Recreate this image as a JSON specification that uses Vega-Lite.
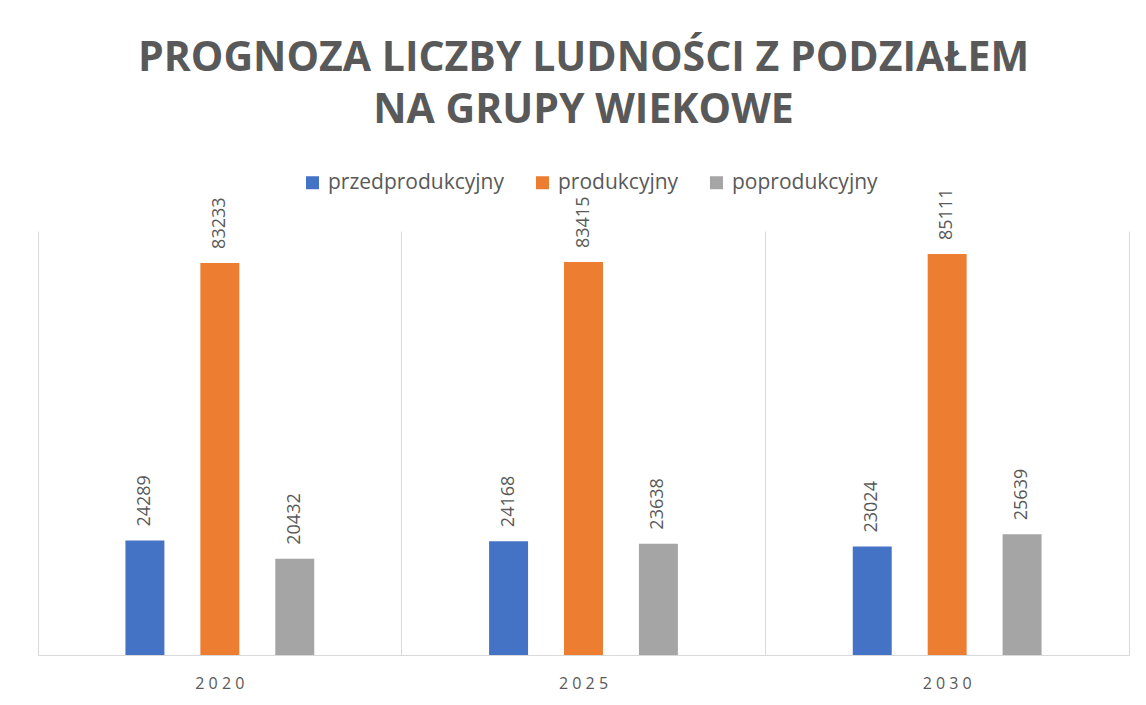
{
  "$schema": "https://vega.github.io/schema/vega-lite/v6.json",
  "width": 1091,
  "height": 424,
  "autosize": {"type": "none"},
  "padding": {"left": 38, "top": 231, "right": 17, "bottom": 50},
  "background": "white",
  "title": {
    "text": ["PROGNOZA LICZBY LUDNOŚCI Z PODZIAŁEM", "NA GRUPY WIEKOWE"],
    "font": "Open Sans",
    "fontSize": 41,
    "fontWeight": "bold",
    "color": "#595959",
    "anchor": "middle",
    "lineHeight": 52,
    "offset": 40
  },
  "data": {
    "values": [
      {"year": "2020", "series": "przedprodukcyjny", "value": 24289},
      {"year": "2020", "series": "produkcyjny", "value": 83233},
      {"year": "2020", "series": "poprodukcyjny", "value": 20432},
      {"year": "2025", "series": "przedprodukcyjny", "value": 24168},
      {"year": "2025", "series": "produkcyjny", "value": 83415},
      {"year": "2025", "series": "poprodukcyjny", "value": 23638},
      {"year": "2030", "series": "przedprodukcyjny", "value": 23024},
      {"year": "2030", "series": "produkcyjny", "value": 85111},
      {"year": "2030", "series": "poprodukcyjny", "value": 25639}
    ]
  },
  "encoding": {
    "x": {
      "field": "year",
      "type": "nominal",
      "scale": {"paddingInner": 0, "paddingOuter": 0},
      "axis": {
        "title": null,
        "grid": true,
        "bandPosition": 0,
        "gridColor": "#d9d9d9",
        "gridWidth": 1,
        "domainColor": "#d9d9d9",
        "domainWidth": 1,
        "ticks": false,
        "labelAngle": 0,
        "labelFont": "Open Sans",
        "labelFontSize": 16,
        "labelColor": "#595959",
        "labelPadding": 20,
        "labelExpr": "join(split(datum.label, ''), ' ')"
      }
    },
    "xOffset": {
      "field": "series",
      "type": "nominal",
      "scale": {
        "domain": ["_lead", "przedprodukcyjny", "produkcyjny", "poprodukcyjny", "_trail"],
        "paddingInner": 0.48,
        "paddingOuter": 0.167
      }
    },
    "y": {
      "field": "value",
      "type": "quantitative",
      "scale": {"domain": [0, 90000], "nice": false},
      "axis": {
        "orient": "right",
        "title": null,
        "labels": false,
        "ticks": false,
        "grid": false,
        "domain": true,
        "domainColor": "#d9d9d9",
        "domainWidth": 1
      }
    },
    "color": {
      "field": "series",
      "type": "nominal",
      "scale": {
        "domain": ["przedprodukcyjny", "produkcyjny", "poprodukcyjny"],
        "range": ["#4472C4", "#ED7D31", "#A5A5A5"]
      },
      "legend": {
        "title": null,
        "orient": "none",
        "direction": "horizontal",
        "legendX": 264,
        "legendY": -59,
        "symbolType": "square",
        "symbolSize": 169,
        "symbolStrokeWidth": 0,
        "labelFont": "Open Sans",
        "labelFontSize": 21,
        "labelColor": "#595959",
        "labelOffset": 5,
        "labelLimit": 400,
        "columnPadding": 27
      }
    }
  },
  "layer": [
    {"mark": {"type": "bar"}},
    {
      "mark": {
        "type": "text",
        "angle": -90,
        "align": "left",
        "baseline": "middle",
        "dx": 14,
        "font": "Open Sans",
        "fontSize": 18,
        "color": "#595959"
      },
      "encoding": {
        "text": {"field": "value", "type": "quantitative", "format": "d"},
        "color": {"value": "#595959"}
      }
    }
  ],
  "config": {
    "view": {"stroke": null}
  }
}
